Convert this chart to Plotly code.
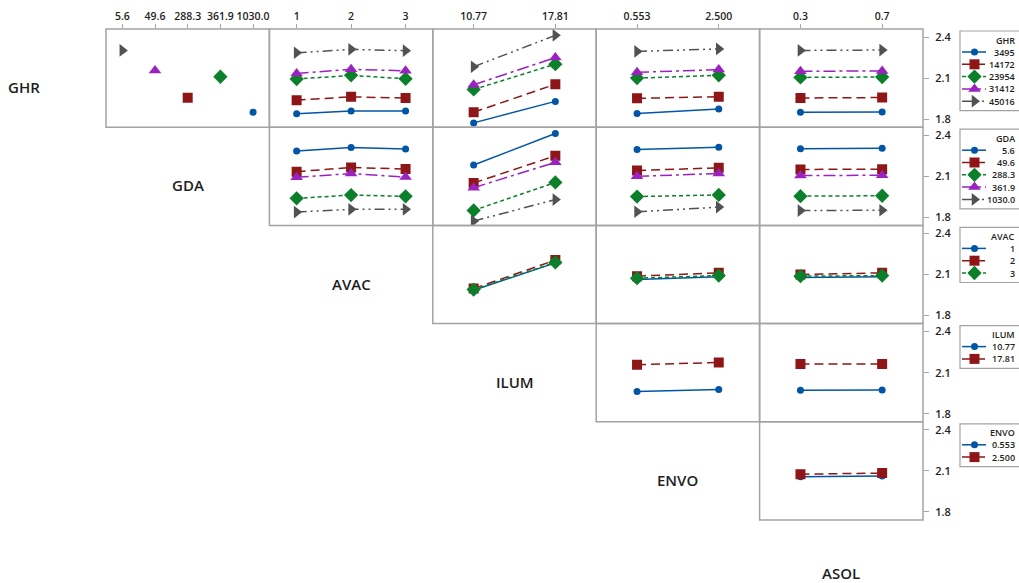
import plotly.graph_objects as go

W, H = 1019, 583

# ---------------- data ----------------
ghr_levels = ["3495", "14172", "23954", "31412", "45016"]
gda_levels = ["5.6", "49.6", "288.3", "361.9", "1030.0"]
avac_levels = ["1", "2", "3"]
ilum_levels = ["10.77", "17.81"]
envo_levels = ["0.553", "2.500"]
asol_levels = ["0.3", "0.7"]

# each GHR level occurs with one GDA level only (confounded)
ghr_at_gda = ["1030.0", "288.3", "361.9", "49.6", "5.6"]
ghr_mean = [1.851, 1.956, 2.110, 2.156, 2.302]

ghr_by_avac = [[1.839, 1.859, 1.859],
               [1.939, 1.963, 1.954],
               [2.093, 2.120, 2.095],
               [2.134, 2.164, 2.153],
               [2.285, 2.310, 2.300]]
ghr_by_ilum = [[1.773, 1.930],
               [1.851, 2.055],
               [2.017, 2.202],
               [2.051, 2.250],
               [2.183, 2.412]]
ghr_by_envo = [[1.841, 1.875],
               [1.952, 1.964],
               [2.100, 2.120],
               [2.142, 2.162],
               [2.295, 2.313]]
ghr_by_asol = [[1.850, 1.852],
               [1.955, 1.958],
               [2.105, 2.108],
               [2.150, 2.152],
               [2.302, 2.305]]
avac_by_ilum = [[1.985, 2.185], [1.997, 2.205], [1.990, 2.188]]
avac_by_envo = [[2.063, 2.083], [2.088, 2.112], [2.073, 2.092]]
avac_by_asol = [[2.078, 2.083], [2.100, 2.112], [2.088, 2.092]]
ilum_by_envo = [[1.962, 1.978], [2.158, 2.175]]
ilum_by_asol = [[1.972, 1.973], [2.163, 2.164]]
envo_by_asol = [[2.058, 2.062], [2.076, 2.084]]

row_names = ["GHR", "GDA", "AVAC", "ILUM", "ENVO"]
col_names = ["GDA", "AVAC", "ILUM", "ENVO", "ASOL"]
diag_names = ["GHR", "GDA", "AVAC", "ILUM", "ENVO", "ASOL"]
row_levels = [ghr_levels, gda_levels, avac_levels, ilum_levels, envo_levels]
col_levels = [gda_levels, avac_levels, ilum_levels, envo_levels, asol_levels]
y_ticks = [1.8, 2.1, 2.4]

# ---------------- styles ----------------
colors = ["#0055A5", "#8E1616", "#0B7F2A", "#9A22C0", "#525252"]
symbols = ["circle", "square", "diamond", "triangle-up", "triangle-right"]
msizes = [7, 10, 11, 11, 11]
dashes = ["solid", "9px,5px", "4px,3px", "12px,4px,3px,4px", "10px,4px,2px,4px,2px,4px"]
frame_col = "#a3a3a3"
txt_col = "#1e1e1e"
FONT = "Open Sans"

# ---------------- geometry (pixels) ----------------
gx0, gx1 = 106, 923
gy0, gy1 = 29, 520
cw = (gx1 - gx0) / 5
ch = (gy1 - gy0) / 5
YR = [1.8 - 8 * 0.6 / 82, 2.4 + 8 * 0.6 / 82]


def px(x):
    return x / W


def py(y):
    return (H - y) / H


ghr_by = {1: ghr_by_avac, 2: ghr_by_ilum, 3: ghr_by_envo, 4: ghr_by_asol}


def panel_series(r, c):
    if r == 0:
        return ghr_by[c]
    if r == 1:
        return [ghr_by[c][ghr_at_gda.index(g)] for g in gda_levels]
    if r == 2:
        return {2: avac_by_ilum, 3: avac_by_envo, 4: avac_by_asol}[c]
    if r == 3:
        return {3: ilum_by_envo, 4: ilum_by_asol}[c]
    return envo_by_asol


fig = go.Figure()
layout = {}
shapes = []
annotations = []
k = 0
for r in range(5):
    for c in range(r, 5):
        k += 1
        xa = "xaxis" if k == 1 else f"xaxis{k}"
        ya = "yaxis" if k == 1 else f"yaxis{k}"
        xr = "x" if k == 1 else f"x{k}"
        yr = "y" if k == 1 else f"y{k}"
        n = len(col_levels[c])
        xd = [px(gx0 + c * cw), px(gx0 + (c + 1) * cw)]
        yd = [py(gy0 + (r + 1) * ch), py(gy0 + r * ch)]
        layout[xa] = dict(
            domain=xd, anchor=yr, range=[-0.5, n - 0.5],
            tickvals=list(range(n)), ticktext=col_levels[c],
            showticklabels=(r == 0), side="top",
            ticks="outside" if r == 0 else "", ticklen=4, tickcolor=frame_col,
            tickfont=dict(family=FONT, size=10.5, color=txt_col, weight=600),
            showgrid=False, zeroline=False, showline=False,
            automargin=False, fixedrange=True)
        layout[ya] = dict(
            domain=yd, anchor=xr, range=YR, tickvals=y_ticks,
            ticktext=[f"{v:.1f}" for v in y_ticks],
            showticklabels=(c == 4), side="right",
            ticks="outside" if c == 4 else "", ticklen=5, tickcolor=frame_col,
            ticklabelstandoff=4,
            tickfont=dict(family=FONT, size=11, color=txt_col, weight=600),
            showgrid=False, zeroline=False, showline=False,
            automargin=False, fixedrange=True)
        shapes.append(dict(type="rect", xref="paper", yref="paper",
                           x0=xd[0], x1=xd[1], y0=yd[0], y1=yd[1],
                           line=dict(color=frame_col, width=1.5), layer="above"))
        if r == 0 and c == 0:
            for i, g in enumerate(ghr_levels):
                fig.add_trace(go.Scatter(
                    x=[gda_levels.index(ghr_at_gda[i])], y=[ghr_mean[i]],
                    xaxis=xr, yaxis=yr, mode="markers", showlegend=False,
                    marker=dict(symbol=symbols[i], size=msizes[i], color=colors[i],
                                opacity=1, line=dict(width=0)),
                    hoverinfo="skip"))
        else:
            series = panel_series(r, c)
            for i, vals in enumerate(series):
                fig.add_trace(go.Scatter(
                    x=list(range(n)), y=vals, xaxis=xr, yaxis=yr,
                    mode="lines+markers", showlegend=False,
                    line=dict(color=colors[i], width=1.5, dash=dashes[i]),
                    marker=dict(symbol=symbols[i], size=msizes[i], color=colors[i],
                                opacity=1, line=dict(width=0)),
                    hoverinfo="skip"))

# ---------------- legends (drawn on a pixel-coordinate axis) ----------------
k += 1
lx, ly = f"x{k}", f"y{k}"
layout[f"xaxis{k}"] = dict(domain=[px(958), 1.0], range=[958, W], visible=False,
                           anchor=ly, fixedrange=True)
layout[f"yaxis{k}"] = dict(domain=[0, 1], range=[H, 0], visible=False,
                           anchor=lx, fixedrange=True)
for r in range(5):
    top = gy0 + r * ch + 2
    levels = row_levels[r]
    nlev = len(levels)
    bottom = top + 21 + 12.3 * (nlev - 1) + 9.5
    shapes.append(dict(type="rect", xref=lx, yref=ly, x0=960, x1=W + 10,
                       y0=top, y1=bottom, line=dict(color=frame_col, width=1.2),
                       fillcolor="white", layer="below"))
    annotations.append(dict(xref=lx, yref=ly, x=1017, y=top + 9, text=row_names[r],
                            showarrow=False, xanchor="right", yanchor="middle",
                            font=dict(family=FONT, size=9, color=txt_col, weight=600)))
    for i, lev in enumerate(levels):
        yy = top + 21 + 12.3 * i
        fig.add_trace(go.Scatter(
            x=[962, 974.5, 986], y=[yy, yy, yy], xaxis=lx, yaxis=ly,
            mode="lines+markers", showlegend=False, cliponaxis=False,
            line=dict(color=colors[i], width=1.5, dash=dashes[i]),
            marker=dict(symbol=symbols[i], size=[0, msizes[i], 0], color=colors[i],
                        opacity=1, line=dict(width=0)),
            hoverinfo="skip"))
        annotations.append(dict(xref=lx, yref=ly, x=1017, y=yy, text=lev,
                                showarrow=False, xanchor="right", yanchor="middle",
                                font=dict(family=FONT, size=9, color=txt_col, weight=600)))

# ---------------- diagonal factor labels ----------------
for r, name in enumerate(diag_names):
    cx = gx0 + (r - 1) * cw + cw / 2
    cy = min(gy0 + r * ch + ch / 2 + 9, H - 10)
    annotations.append(dict(xref="paper", yref="paper", x=px(cx), y=py(cy),
                            text=name, showarrow=False, xanchor="center",
                            yanchor="middle",
                            font=dict(family=FONT, size=15, color=txt_col, weight=600)))

fig.update_layout(
    width=W, height=H, autosize=False,
    margin=dict(l=0, r=0, t=0, b=0, pad=0),
    paper_bgcolor="white", plot_bgcolor="white",
    showlegend=False, shapes=shapes, annotations=annotations,
    font=dict(family=FONT, color=txt_col),
    **layout)

fig.write_html("out.html", config={"displayModeBar": False},
               post_script="document.body.style.margin='0';document.body.style.overflow='hidden';")
